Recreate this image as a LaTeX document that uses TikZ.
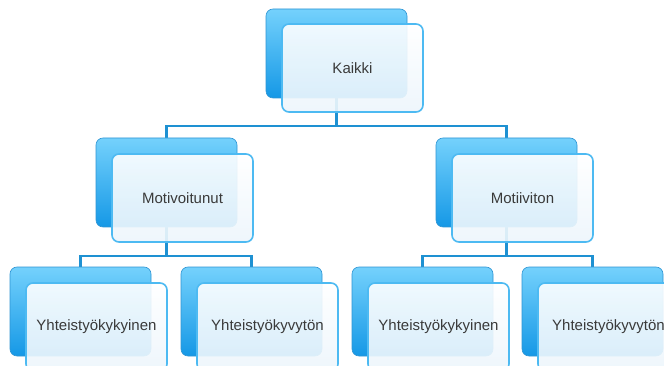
\documentclass[tikz,border=0pt]{standalone}
\usepackage{fontspec}
\setmainfont{Liberation Sans}
\usetikzlibrary{backgrounds}
\definecolor{conncol}{HTML}{1E91D2}
\definecolor{backtop}{HTML}{74D1FC}
\definecolor{backbot}{HTML}{1598E6}
\definecolor{backedge}{HTML}{2F95D4}
\definecolor{frontedge}{HTML}{4DBAF2}
\definecolor{frontbot}{HTML}{EDF6FC}
\definecolor{txtcol}{HTML}{3A3A3A}
\tikzset{
  backbox/.style={rectangle, rounded corners=7pt, anchor=north west, inner sep=0pt, outer sep=0pt,
    minimum width=141pt, minimum height=89pt, top color=backtop, bottom color=backbot,
    draw=backedge, line width=0.6pt},
  frontbox/.style={rectangle, rounded corners=7pt, anchor=north west, inner sep=0pt, outer sep=0pt,
    minimum width=141pt, minimum height=88pt, top color=white, bottom color=frontbot,
    fill opacity=0.9, text opacity=1, draw=frontedge, draw opacity=1, line width=1.6pt,
    text=txtcol, font=\fontsize{15}{18}\selectfont},
  conn/.style={draw=conncol, line width=2.4pt}
}
\begin{document}
\begin{tikzpicture}[x=1pt,y=-1pt]
\useasboundingbox (0,0) rectangle (664,366);
\clip (0,0) rectangle (664,366);
% top
\node[backbox] (kb) at (266,9) {};
\node[frontbox] (k) at (282,24) {Kaikki};
% middle
\node[backbox] (mlb) at (96,138) {};
\node[frontbox] (ml) at (112,154) {Motivoitunut};
\node[backbox] (mrb) at (436,138) {};
\node[frontbox] (mr) at (452,154) {Motiiviton};
% bottom
\node[backbox] (b1b) at (10,267) {};
\node[frontbox] (b1) at (26,283) {Yhteistyökykyinen};
\node[backbox] (b2b) at (181,267) {};
\node[frontbox] (b2) at (197,283) {Yhteistyökyvytön};
\node[backbox] (b3b) at (352,267) {};
\node[frontbox] (b3) at (368,283) {Yhteistyökykyinen};
\node[backbox] (b4b) at (522,267) {};
\node[frontbox] (b4) at (538,283) {Yhteistyökyvytön};
\begin{pgfonlayer}{background}
\fill[white] (0,0) rectangle (664,366);
\draw[conn] (kb.south) -- (kb.south |- 0,126) -| (mlb.north);
\draw[conn] (kb.south |- 0,126) -| (mrb.north);
\draw[conn] (mlb.south) -- (mlb.south |- 0,256) -| (b1b.north);
\draw[conn] (mlb.south |- 0,256) -| (b2b.north);
\draw[conn] (mrb.south) -- (mrb.south |- 0,256) -| (b3b.north);
\draw[conn] (mrb.south |- 0,256) -| (b4b.north);
\end{pgfonlayer}
\end{tikzpicture}
\end{document}
